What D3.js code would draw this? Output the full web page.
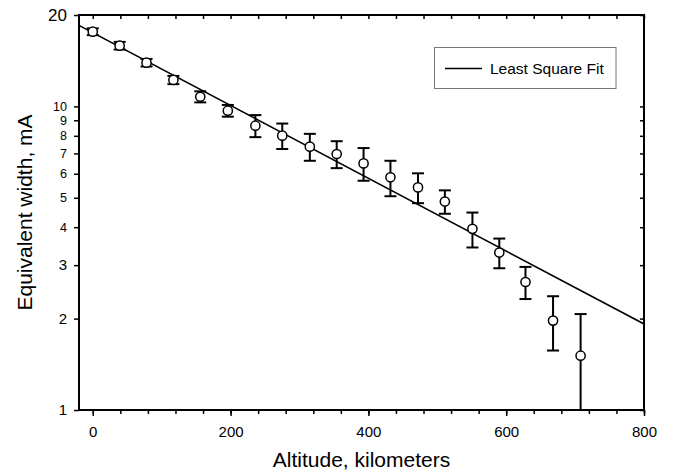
<!DOCTYPE html>
<html>
<head>
<meta charset="utf-8">
<script src="https://cdn.jsdelivr.net/npm/d3@7"></script>
<style>
  html, body { margin: 0; padding: 0; background: #fff; }
  svg { display: block; font-family: "Liberation Sans", Arial, sans-serif; }
</style>
</head>
<body>
<svg id="chart" width="673" height="472"></svg>
<script>
// Equivalent width measurements versus altitude, with ± error
const altitudeKm = [0, 39, 78, 117, 156, 196, 236, 275, 315, 354, 393, 432, 472, 511, 551, 590, 628, 668, 708];
const widthMA    = [17.62, 15.85, 13.93, 12.22, 10.76, 9.68, 8.64, 8.01, 7.37, 6.97, 6.49, 5.84, 5.41, 4.86, 3.95, 3.30, 2.64, 1.97, 1.51];
const widthErr   = [0.45, 0.46, 0.40, 0.38, 0.45, 0.43, 0.72, 0.77, 0.75, 0.71, 0.80, 0.78, 0.61, 0.43, 0.52, 0.37, 0.32, 0.40, 0.56];

// Least square fit line (end points, log-linear)
const fitAltitude = [-20, 800];
const fitWidth    = [18.48, 1.92];

// Axis ticks
const xMajorTicks = [0, 200, 400, 600, 800];
const xMinorTicks = d3.range(0, 801, 40);
const yTicks      = [1, 2, 3, 4, 5, 6, 7, 8, 9, 10, 20];
const yLargeLabels = [1, 2, 3];

const svg = d3.select("#chart");
const plotL = 79, plotR = 644, plotT = 15, plotB = 410;

const x = d3.scaleLinear().domain([-20, 800]).range([plotL, plotR]);
const y = d3.scaleLog().domain([1, 20]).range([plotB, plotT]);

svg.append("defs").append("clipPath").attr("id", "plot")
  .append("rect").attr("x", plotL).attr("y", plotT)
  .attr("width", plotR - plotL).attr("height", plotB - plotT);

function styleAxis(g) {
  g.select(".domain").remove();
  g.selectAll(".tick line").attr("stroke", "#000").attr("stroke-width", 1.5);
}

// bottom axis: minor + major ticks pointing outward
svg.append("g").attr("transform", `translate(0,${plotB})`)
  .call(d3.axisBottom(x).tickValues(xMinorTicks).tickSize(4).tickFormat(""))
  .call(styleAxis);
svg.append("g").attr("transform", `translate(0,${plotB})`)
  .call(d3.axisBottom(x).tickValues(xMajorTicks).tickSize(6).tickPadding(10).tickFormat(d3.format("d")))
  .call(styleAxis)
  .call(g => g.selectAll("text").attr("fill", "#000").attr("font-size", 15));

// top axis: ticks pointing inward
svg.append("g").attr("transform", `translate(0,${plotT})`)
  .call(d3.axisBottom(x).tickValues(xMinorTicks).tickSize(4).tickFormat(""))
  .call(styleAxis);

// left axis (log) with labels
svg.append("g").attr("transform", `translate(${plotL},0)`)
  .call(d3.axisLeft(y).tickValues(yTicks).tickSize(5).tickPadding(7).tickFormat(d3.format("d")))
  .call(styleAxis)
  .call(g => g.selectAll("text")
    .attr("fill", "#000")
    .attr("font-size", d => d === 20 ? 17 : (yLargeLabels.includes(d) ? 15 : 12.5)));

// right axis: ticks pointing inward
svg.append("g").attr("transform", `translate(${plotR},0)`)
  .call(d3.axisLeft(y).tickValues(yTicks).tickSize(4).tickFormat(""))
  .call(styleAxis);

// frame
svg.append("rect")
  .attr("x", plotL).attr("y", plotT)
  .attr("width", plotR - plotL).attr("height", plotB - plotT)
  .attr("fill", "none").attr("stroke", "#000").attr("stroke-width", 2);

// fit line
const fitPts = fitAltitude.map((a, i) => [a, fitWidth[i]]);
svg.append("path")
  .datum(fitPts)
  .attr("clip-path", "url(#plot)")
  .attr("d", d3.line().x(d => x(d[0])).y(d => y(d[1])))
  .attr("fill", "none").attr("stroke", "#000").attr("stroke-width", 1.6);

// error bars
const data = altitudeKm.map((a, i) => ({ a, v: widthMA[i], e: widthErr[i] }));
const bars = svg.append("g").attr("clip-path", "url(#plot)")
  .attr("stroke", "#000").attr("stroke-width", 2);
const yc = v => v > 0.5 ? y(v) : plotB + 20;
const cap = 6;
bars.selectAll("line.stem").data(data).enter().append("line")
  .attr("x1", d => x(d.a)).attr("x2", d => x(d.a))
  .attr("y1", d => yc(d.v + d.e)).attr("y2", d => yc(d.v - d.e));
bars.selectAll("line.top").data(data).enter().append("line")
  .attr("x1", d => x(d.a) - cap).attr("x2", d => x(d.a) + cap)
  .attr("y1", d => yc(d.v + d.e)).attr("y2", d => yc(d.v + d.e));
bars.selectAll("line.bot").data(data).enter().append("line")
  .attr("x1", d => x(d.a) - cap).attr("x2", d => x(d.a) + cap)
  .attr("y1", d => yc(d.v - d.e)).attr("y2", d => yc(d.v - d.e));

// points
svg.append("g").selectAll("circle").data(data).enter().append("circle")
  .attr("cx", d => x(d.a)).attr("cy", d => y(d.v)).attr("r", 4.6)
  .attr("fill", "#fff").attr("stroke", "#000").attr("stroke-width", 1.5);

// legend
const lg = svg.append("g");
lg.append("rect").attr("x", 434.5).attr("y", 47.5).attr("width", 181.5).attr("height", 41)
  .attr("fill", "#fff").attr("stroke", "#777").attr("stroke-width", 1);
lg.append("line").attr("x1", 445).attr("x2", 482).attr("y1", 68.5).attr("y2", 68.5)
  .attr("stroke", "#000").attr("stroke-width", 1.6);
lg.append("text").attr("x", 490).attr("y", 74).attr("font-size", 15.5).attr("fill", "#000")
  .text("Least Square Fit");

// axis titles
svg.append("text")
  .attr("x", (plotL + plotR) / 2).attr("y", 467)
  .attr("text-anchor", "middle").attr("font-size", 21).attr("fill", "#000")
  .text("Altitude, kilometers");
svg.append("text")
  .attr("transform", `translate(32,${(plotT + plotB) / 2}) rotate(-90)`)
  .attr("text-anchor", "middle").attr("font-size", 21).attr("fill", "#000")
  .text("Equivalent width, mA");
</script>
</body>
</html>
